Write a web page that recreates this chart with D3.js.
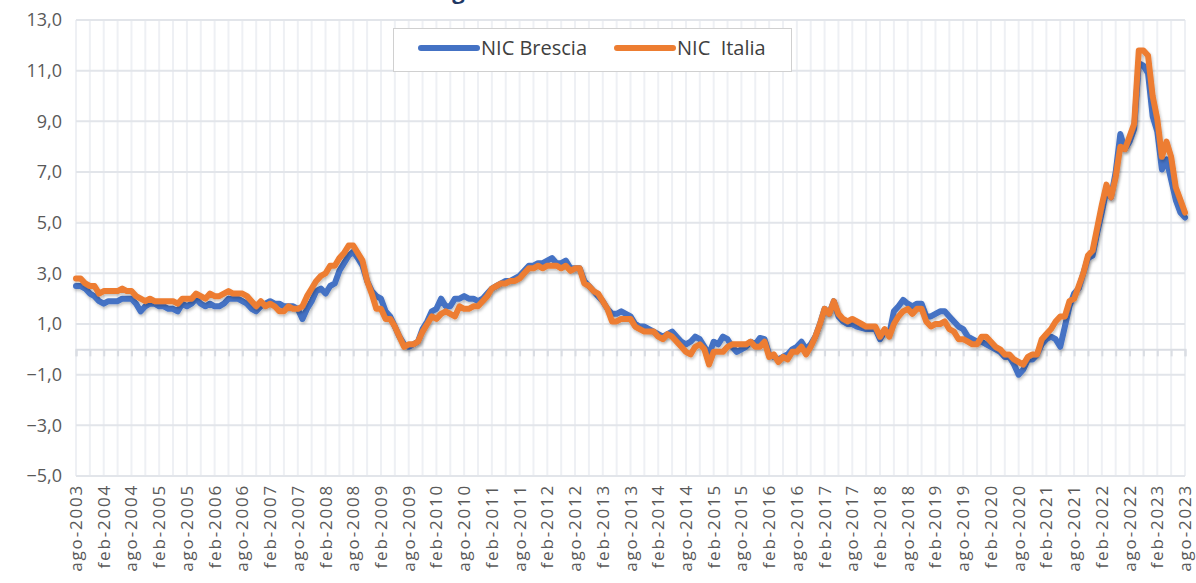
<!DOCTYPE html>
<html>
<head>
<meta charset="utf-8">
<script src="https://cdn.jsdelivr.net/npm/d3@7"></script>
<style>
  body { margin: 0; background: #fff; }
  svg { display: block; font-family: "Open Sans", sans-serif; }
</style>
</head>
<body>
<script>
// variazioni tendenziali mensili, ago-2003 .. ago-2023
const brescia = [
  2.5, 2.5, 2.4, 2.2, 2.1,
  1.9, 1.8, 1.9, 1.9, 1.9, 2.0, 2.0, 2.0, 1.8, 1.5, 1.7, 1.8,
  1.8, 1.7, 1.7, 1.6, 1.6, 1.5, 1.8, 1.7, 1.8, 2.0, 1.8, 1.7,
  1.8, 1.7, 1.7, 1.8, 2.0, 2.0, 2.0, 1.9, 1.8, 1.6, 1.5, 1.7,
  1.8, 1.9, 1.8, 1.8, 1.7, 1.7, 1.7, 1.6, 1.2, 1.6, 1.9, 2.3,
  2.4, 2.2, 2.5, 2.6, 3.1, 3.4, 3.7, 3.85, 3.6, 3.3, 2.7, 2.3,
  2.1, 2.0, 1.5, 1.3, 0.9, 0.5, 0.2, 0.1, 0.2, 0.3, 0.8, 1.1,
  1.5, 1.6, 2.0, 1.7, 1.7, 2.0, 2.0, 2.1, 2.0, 2.0, 1.9, 2.0,
  2.2, 2.4, 2.5, 2.6, 2.7, 2.7, 2.8, 2.9, 3.1, 3.3, 3.3, 3.4,
  3.4, 3.5, 3.6, 3.4, 3.4, 3.5, 3.2, 3.2, 3.2, 2.7, 2.5, 2.3,
  2.1, 1.9, 1.6, 1.4, 1.4, 1.5, 1.4, 1.3, 1.0, 0.9, 0.9, 0.8,
  0.7, 0.6, 0.5, 0.6, 0.7, 0.5, 0.3, 0.2, 0.3, 0.5, 0.4, 0.1,
  -0.2, 0.3, 0.2, 0.5, 0.4, 0.1, -0.1, 0.0, 0.1, 0.3, 0.2, 0.45,
  0.4, -0.2, -0.3, -0.4, -0.3, -0.2, 0.0, 0.1, 0.3, 0.0, 0.2, 0.5,
  1.0, 1.6, 1.4, 1.9, 1.3, 1.1, 1.0, 1.0, 0.9, 0.85, 0.8, 0.8,
  0.8, 0.4, 0.7, 0.6, 1.5, 1.7, 1.95, 1.8, 1.7, 1.8, 1.8, 1.3,
  1.3, 1.4, 1.5, 1.5, 1.3, 1.1, 0.9, 0.8, 0.5, 0.4, 0.3, 0.3,
  0.2, 0.1, 0.0, -0.1, -0.3, -0.3, -0.6, -1.0, -0.8, -0.4, -0.4, -0.2,
  0.2, 0.4, 0.5, 0.4, 0.1, 0.9, 1.7, 2.2, 2.4, 3.0, 3.6, 3.7,
  4.6, 5.4, 6.3, 6.0, 7.0, 8.5, 7.9, 8.2, 8.7, 11.3, 11.2, 10.9,
  9.2, 8.6, 7.1, 7.5, 6.7, 5.9, 5.4, 5.2
];

const italia = [
  2.8, 2.8, 2.6, 2.5, 2.5,
  2.2, 2.3, 2.3, 2.3, 2.3, 2.4, 2.3, 2.3, 2.1, 2.0, 1.9, 2.0,
  1.9, 1.9, 1.9, 1.9, 1.9, 1.8, 2.0, 2.0, 2.0, 2.2, 2.1, 2.0,
  2.2, 2.1, 2.1, 2.2, 2.3, 2.2, 2.2, 2.2, 2.1, 1.9, 1.7, 1.9,
  1.7, 1.8, 1.7, 1.5, 1.5, 1.7, 1.6, 1.6, 1.7, 2.1, 2.4, 2.7,
  2.9, 3.0, 3.3, 3.3, 3.6, 3.8, 4.1, 4.1, 3.8, 3.5, 2.7, 2.2,
  1.6, 1.6, 1.2, 1.2, 0.9, 0.5, 0.1, 0.2, 0.2, 0.3, 0.7, 1.0,
  1.3, 1.2, 1.4, 1.5, 1.4, 1.3, 1.7, 1.6, 1.6, 1.7, 1.7, 1.9,
  2.1, 2.4, 2.5, 2.6, 2.6, 2.7, 2.7, 2.8, 3.0, 3.2, 3.2, 3.3,
  3.2, 3.3, 3.3, 3.3, 3.2, 3.3, 3.1, 3.2, 3.2, 2.6, 2.5, 2.3,
  2.2, 1.9, 1.6, 1.1, 1.1, 1.2, 1.2, 1.2, 0.9, 0.8, 0.7, 0.7,
  0.7, 0.5, 0.4, 0.6, 0.5, 0.3, 0.1, -0.1, -0.2, 0.1, 0.2, 0.0,
  -0.6, -0.1, -0.1, -0.1, 0.1, 0.2, 0.2, 0.2, 0.2, 0.3, 0.1, 0.1,
  0.3, -0.3, -0.2, -0.5, -0.3, -0.4, -0.1, -0.1, 0.1, -0.2, 0.1, 0.5,
  1.0, 1.6, 1.4, 1.9, 1.4, 1.2, 1.1, 1.2, 1.1, 1.0, 0.9, 0.9,
  0.9, 0.5, 0.8, 0.5, 1.0, 1.3, 1.5, 1.6, 1.4, 1.6, 1.6, 1.1,
  0.9, 1.0, 1.0, 1.1, 0.8, 0.7, 0.4, 0.4, 0.3, 0.2, 0.2, 0.5,
  0.5, 0.3, 0.1, 0.0, -0.2, -0.2, -0.4, -0.5, -0.6, -0.3, -0.2, -0.2,
  0.4, 0.6, 0.8, 1.1, 1.3, 1.3, 1.9, 2.0, 2.5, 3.0, 3.7, 3.9,
  4.8, 5.7, 6.5, 6.0, 6.8, 8.0, 7.9, 8.4, 8.9, 11.8, 11.8, 11.6,
  10.0, 9.1, 7.6, 8.2, 7.6, 6.4, 5.9, 5.4
];

const monthNames = ["gen", "feb", "mar", "apr", "mag", "giu", "lug", "ago", "set", "ott", "nov", "dic"];
const yTicks = [-5, -3, -1, 1, 3, 5, 7, 9, 11, 13];
const seriesNames = ["NIC Brescia", "NIC  Italia"];
const colors = ["#4472C4", "#ED7D31"];

// etichette mese-anno a partire da ago-2003
const months = brescia.map((d, i) => {
  const m = (7 + i) % 12;
  const y = 2003 + Math.floor((7 + i) / 12);
  return monthNames[m] + "-" + y;
});

const width = 1196, height = 583;
const margin = {top: 20, right: 11, bottom: 107, left: 76};

const svg = d3.select("body").append("svg").attr("width", width).attr("height", height);

const defs = svg.append("defs");
const f = defs.append("filter").attr("id", "shadow").attr("x", "-5%").attr("y", "-5%").attr("width", "110%").attr("height", "115%");
f.append("feDropShadow").attr("dx", 1).attr("dy", 2).attr("stdDeviation", 1.5)
  .attr("flood-color", "#000").attr("flood-opacity", 0.25);

const x = d3.scalePoint().domain(months).range([margin.left, width - margin.right]);
const y = d3.scaleLinear().domain([-5, 13]).range([height - margin.bottom, margin.top]);

// titolo: nell'originale si vede solo il bordo inferiore
svg.append("text")
  .attr("x", 640).attr("y", -1)
  .attr("text-anchor", "middle")
  .attr("font-size", 22).attr("font-weight", 700)
  .attr("fill", "#1F3864")
  .text("Indice generale NIC: Brescia e Italia a confronto");

// griglia verticale ogni trimestre
const quarterly = months.filter((d, i) => i % 3 === 0);
svg.append("g").selectAll("line").data(quarterly).join("line")
  .attr("x1", d => x(d)).attr("x2", d => x(d))
  .attr("y1", y(13)).attr("y2", y(-5))
  .attr("stroke", "#eef0f4").attr("stroke-width", 2);

// griglia orizzontale
svg.append("g").selectAll("line").data(yTicks).join("line")
  .attr("x1", margin.left).attr("x2", width - margin.right)
  .attr("y1", d => y(d)).attr("y2", d => y(d))
  .attr("stroke", "#e2e5ea").attr("stroke-width", 2);

// asse delle categorie sullo zero
const xAxis = d3.axisBottom(x).tickValues(quarterly).tickSize(7).tickFormat("");
const gx = svg.append("g").attr("transform", `translate(0,${y(0)})`).call(xAxis);
gx.select(".domain").attr("stroke", "#dadde3").attr("stroke-width", 2);
gx.selectAll(".tick line").attr("stroke", "#dadde3").attr("stroke-width", 2);

// etichette asse y
const yAxis = d3.axisLeft(y).tickValues(yTicks).tickSize(0).tickPadding(14)
  .tickFormat(d => d3.format(".1f")(d).replace(".", ","));
const gy = svg.append("g").attr("transform", `translate(${margin.left},0)`).call(yAxis);
gy.select(".domain").remove();
gy.selectAll("text").attr("font-size", 18).attr("fill", "#595959").attr("font-family", "Open Sans, sans-serif");

// etichette asse x, ruotate
const labelTicks = months.filter((d, i) => i % 6 === 0);
svg.append("g").selectAll("text").data(labelTicks).join("text")
  .attr("transform", d => `translate(${x(d) + 6},${height - margin.bottom + 8}) rotate(-90)`)
  .attr("text-anchor", "end")
  .attr("font-size", 17)
  .attr("letter-spacing", 1.8)
  .attr("fill", "#595959")
  .text(d => d);

// linee
const line = d3.line().x((d, i) => x(months[i])).y(d => y(d));
[brescia, italia].forEach((s, k) => {
  svg.append("path").datum(s)
    .attr("d", line)
    .attr("fill", "none")
    .attr("stroke", colors[k])
    .attr("stroke-width", 6)
    .attr("stroke-linejoin", "round")
    .attr("stroke-linecap", "round")
    .attr("filter", "url(#shadow)");
});

// legenda
const lg = svg.append("g");
lg.append("rect").attr("x", 393.5).attr("y", 28.5).attr("width", 398).attr("height", 43)
  .attr("fill", "#fff").attr("stroke", "#d0d0d0");
const legX = [421, 617];
seriesNames.forEach((n, k) => {
  lg.append("line").attr("x1", legX[k]).attr("x2", legX[k] + 56).attr("y1", 48).attr("y2", 48)
    .attr("stroke", colors[k]).attr("stroke-width", 6).attr("stroke-linecap", "round");
  lg.append("text").attr("x", legX[k] + 60).attr("y", 55)
    .attr("font-size", 20).attr("fill", "#404040")
    .attr("xml:space", "preserve").style("white-space", "pre")
    .text(n);
});
</script>
</body>
</html>
